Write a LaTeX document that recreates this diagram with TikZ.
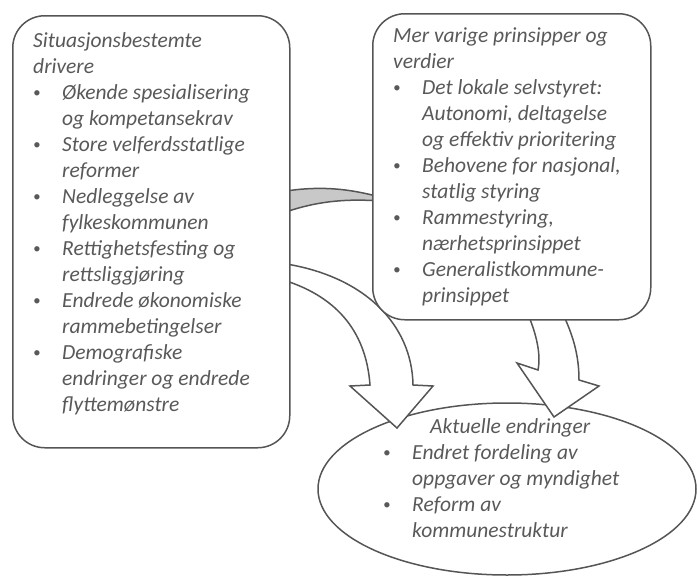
\documentclass[tikz,border=0pt]{standalone}
\usepackage{fontspec}
\usetikzlibrary{shapes.geometric}
\setmainfont{Carlito}
\definecolor{txt}{HTML}{595959}
\definecolor{ln}{HTML}{555555}
\definecolor{band}{HTML}{C8C8C8}
\newcommand\bl{\hspace*{0pt}\makebox[29pt][l]{\raisebox{1.5pt}{\fontsize{15}{15}\selectfont\textbullet}}}
\newcommand\ind{\hspace*{29pt}}
\tikzset{
  boxst/.style={draw=ln, line width=1.5pt, fill=white, rounded corners=32pt, inner sep=0pt},
  arrowst/.style={draw=ln, line width=1.5pt, fill=white, line join=miter},
  txtst/.style={text=txt, font=\fontsize{21.5}{26}\selectfont\itshape, align=left, inner sep=0pt, anchor=base west}
}
\begin{document}
\begin{tikzpicture}[x=1pt,y=-1pt]
\useasboundingbox (0,0) rectangle (697,576);
% ellipse
\node (E) [draw=ln, line width=1.5pt, ellipse, minimum width=378pt, minimum height=172pt, inner sep=0pt] at (507,489) {};
% left curved arrow
\coordinate (la0) at (280,263);
\coordinate (la1) at (413,385);
\coordinate (la2) at (433,386);
\coordinate (la3) at (397,428);
\coordinate (la4) at (350,386);
\coordinate (la5) at (370,385);
\coordinate (la6) at (280,279);
\draw[arrowst] (la0) .. controls (365,275) and (412,325) .. (la1) -- (la2) -- (la3) -- (la4) -- (la5) .. controls (366,330) and (335,295) .. (la6) -- cycle;
% right curved arrow
\coordinate (ra0) at (527,312);
\coordinate (ra1) at (538,370);
\coordinate (ra2) at (517,363);
\coordinate (ra3) at (554,417);
\coordinate (ra4) at (599,386);
\coordinate (ra5) at (579,380);
\coordinate (ra6) at (562,312);
\draw[arrowst] (ra0) .. controls (537,335) and (541,355) .. (ra1) -- (ra2) -- (ra3) -- (ra4) -- (ra5) .. controls (579,355) and (573,335) .. (ra6) -- cycle;
% gray band
\coordinate (g0) at (280,192);
\coordinate (g1) at (380,197);
\coordinate (g2) at (380,201);
\coordinate (g3) at (280,214);
\draw[draw=ln, line width=1.5pt, fill=band] (g0) .. controls (320,185) and (350,189) .. (g1) -- (g2) .. controls (340,198) and (310,203) .. (g3) -- cycle;
% boxes
\node (L) [boxst, anchor=north west, minimum width=277pt, minimum height=432pt] at (12,15) {};
\node (R) [boxst, anchor=north west, minimum width=278pt, minimum height=306pt] at (372,13) {};
% texts (base anchor = baseline of last line)
\node (LT) [txtst] at (33,411) {Situasjonsbestemte\\drivere\\
\bl Økende spesialisering\\\ind og kompetansekrav\\
\bl Store velferdsstatlige\\\ind reformer\\
\bl Nedleggelse av\\\ind fylkeskommunen\\
\bl Rettighetsfesting og\\\ind rettsliggjøring\\
\bl Endrede økonomiske\\\ind rammebetingelser\\
\bl Demografiske\\\ind endringer og endrede\\\ind flyttemønstre};
\node (RT) [txtst] at (393,302) {Mer varige prinsipper og\\verdier\\
\bl Det lokale selvstyret:\\\ind Autonomi, deltagelse\\\ind og effektiv prioritering\\
\bl Behovene for nasjonal,\\\ind statlig styring\\
\bl Rammestyring,\\\ind nærhetsprinsippet\\
\bl Generalistkommune-\\\ind prinsippet};
\node (ET) [txtst] at (383,537) {\hspace*{47pt}Aktuelle endringer\\
\bl Endret fordeling av\\\ind oppgaver og myndighet\\
\bl Reform av\\\ind kommunestruktur};
\end{tikzpicture}
\end{document}
